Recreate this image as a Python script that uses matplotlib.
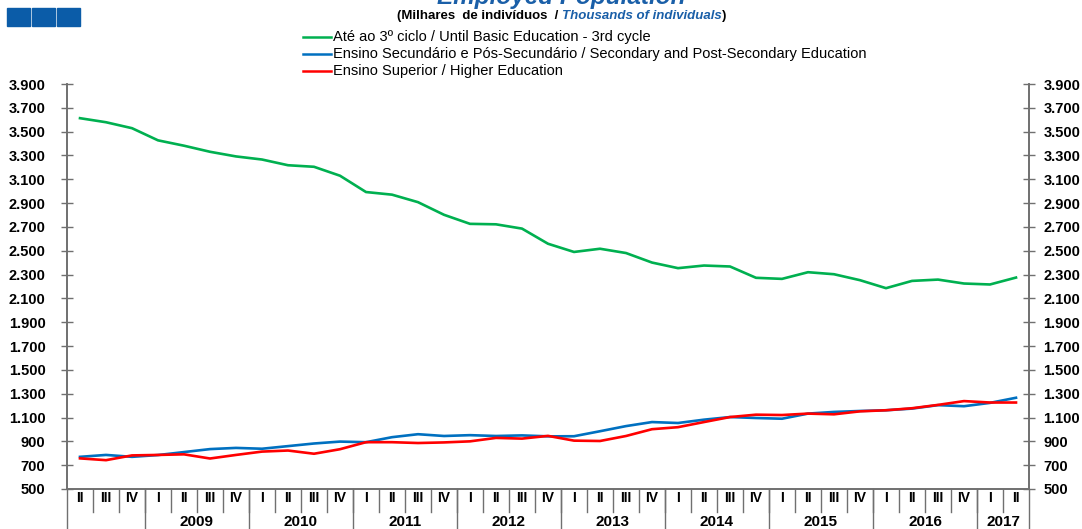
import matplotlib
matplotlib.use("Agg")
import matplotlib.pyplot as plt
import matplotlib.transforms as mtransforms
from matplotlib.patches import Rectangle

plt.rcParams['font.family'] = ['Liberation Sans', 'DejaVu Sans']

# ---------------- data ----------------
quarters = ["II", "III", "IV"] + ["I", "II", "III", "IV"] * 8 + ["I", "II"]
years = ["", "2009", "2010", "2011", "2012", "2013", "2014", "2015", "2016", "2017"]
year_sizes = [3, 4, 4, 4, 4, 4, 4, 4, 4, 2]

basic = [3613, 3579, 3529, 3427, 3382, 3331, 3292, 3266, 3218, 3205,
         3130, 2993, 2971, 2908, 2802, 2726, 2722, 2686, 2559, 2490,
         2517, 2481, 2401, 2354, 2376, 2368, 2273, 2264, 2320, 2303,
         2253, 2186, 2247, 2258, 2225, 2217, 2275]
secondary = [770, 786, 770, 785, 810, 835, 845, 838, 860, 882,
             898, 893, 935, 960, 945, 952, 945, 950, 942, 943,
             985, 1028, 1062, 1054, 1082, 1104, 1096, 1090, 1133, 1147,
             1155, 1161, 1175, 1204, 1195, 1223, 1266]
higher = [757, 742, 782, 786, 791, 756, 786, 814, 823, 796,
          834, 893, 893, 886, 891, 900, 929, 923, 946, 906,
          903, 945, 1002, 1019, 1062, 1104, 1124, 1121, 1133, 1127,
          1152, 1161, 1178, 1206, 1238, 1226, 1226]

labels = ["Até ao 3º ciclo / Until Basic Education - 3rd cycle",
          "Ensino Secundário e Pós-Secundário / Secondary and Post-Secondary Education",
          "Ensino Superior / Higher Education"]
colors = ["#00B050", "#0070C0", "#FF0000"]
yticks = list(range(500, 3901, 200))
ytick_labels = [f"{v:,}".replace(",", ".") for v in yticks]

# ---------------- figure ----------------
W, H = 1082, 529
fig = plt.figure(figsize=(W / 100, H / 100), dpi=100)
L, R, T, B = 67, 1029, 84, 489
ax = fig.add_axes([L / W, 1 - B / H, (R - L) / W, (B - T) / H])

x = list(range(len(quarters)))
for series, c in zip([basic, secondary, higher], colors):
    ax.plot(x, series, color=c, lw=1.9, solid_joinstyle='round')

ax.set_xlim(-0.5, len(quarters) - 0.5)
for a, side in [(ax, 'left'), (ax.twinx(), 'right')]:
    a.set_ylim(500, 3900)
    a.set_yticks(yticks)
    a.set_yticklabels(ytick_labels, fontweight='bold')
    a.tick_params(axis='y', direction='inout', length=9, width=1, color='#707070',
                  labelsize=10.5, pad=11 if side == 'left' else 6)
    a.spines['top'].set_visible(False)
    for s in ['left', 'right', 'bottom']:
        a.spines[s].set_color('#707070')
        a.spines[s].set_linewidth(1.2)
ax.tick_params(axis='x', bottom=False, labelbottom=False)

# x-axis category table
axh = B - T
trans = mtransforms.blended_transform_factory(ax.transData, ax.transAxes)
for i, q in enumerate(quarters):
    ax.text(i, -9 / axh, q, transform=trans, ha='center', va='center',
            fontsize=10, fontweight='bold')
    if i > 0:
        ax.plot([i - 0.5, i - 0.5], [0, -23 / axh], transform=trans,
                color='#707070', lw=1, clip_on=False)
pos = -0.5
ax.plot([pos, pos], [0, -45 / axh], transform=trans, color='#707070', lw=1, clip_on=False)
for yr, n in zip(years, year_sizes):
    center = pos + n / 2
    if yr:
        ax.text(center, -33 / axh, yr, transform=trans, ha='center', va='center',
                fontsize=11, fontweight='bold')
    pos += n
    ax.plot([pos, pos], [0, -45 / axh], transform=trans, color='#707070', lw=1, clip_on=False)

# ---------------- header ----------------
for k in range(3):
    fig.patches.append(Rectangle(((7 + k * 25) / W, 1 - 26 / H), 23 / W, 18 / H,
                                 transform=fig.transFigure, color='#0B5CA8'))

fig.text(561 / W, 1 - 4 / H, "Employed Population", ha='center', va='baseline',
         fontsize=17.5, fontweight='bold', fontstyle='italic', color='#1A5FA8')

t1 = fig.text(397 / W, 1 - 16 / H, "(Milhares  de indivíduos  / ", ha='left', va='center',
              fontsize=9.5, fontweight='bold', color='black')
t2 = plt.annotate("Thousands of individuals", xy=(1, 0), xycoords=t1, va='bottom', ha='left',
                  fontsize=9.5, fontweight='bold', fontstyle='italic', color='#1A5FA8')
plt.annotate(")", xy=(1, 0), xycoords=t2, va='bottom', ha='left',
             fontsize=9.5, fontweight='bold', color='black')

for k, (lab, c) in enumerate(zip(labels, colors)):
    yy = 1 - (37 + 17 * k) / H
    fig.add_artist(plt.Line2D([303 / W, 331 / W], [yy, yy], transform=fig.transFigure,
                              color=c, lw=1.8))
    fig.text(333 / W, yy, lab, ha='left', va='center', fontsize=10.5, color='black')

fig.savefig("out.png", dpi=100, facecolor='white')
